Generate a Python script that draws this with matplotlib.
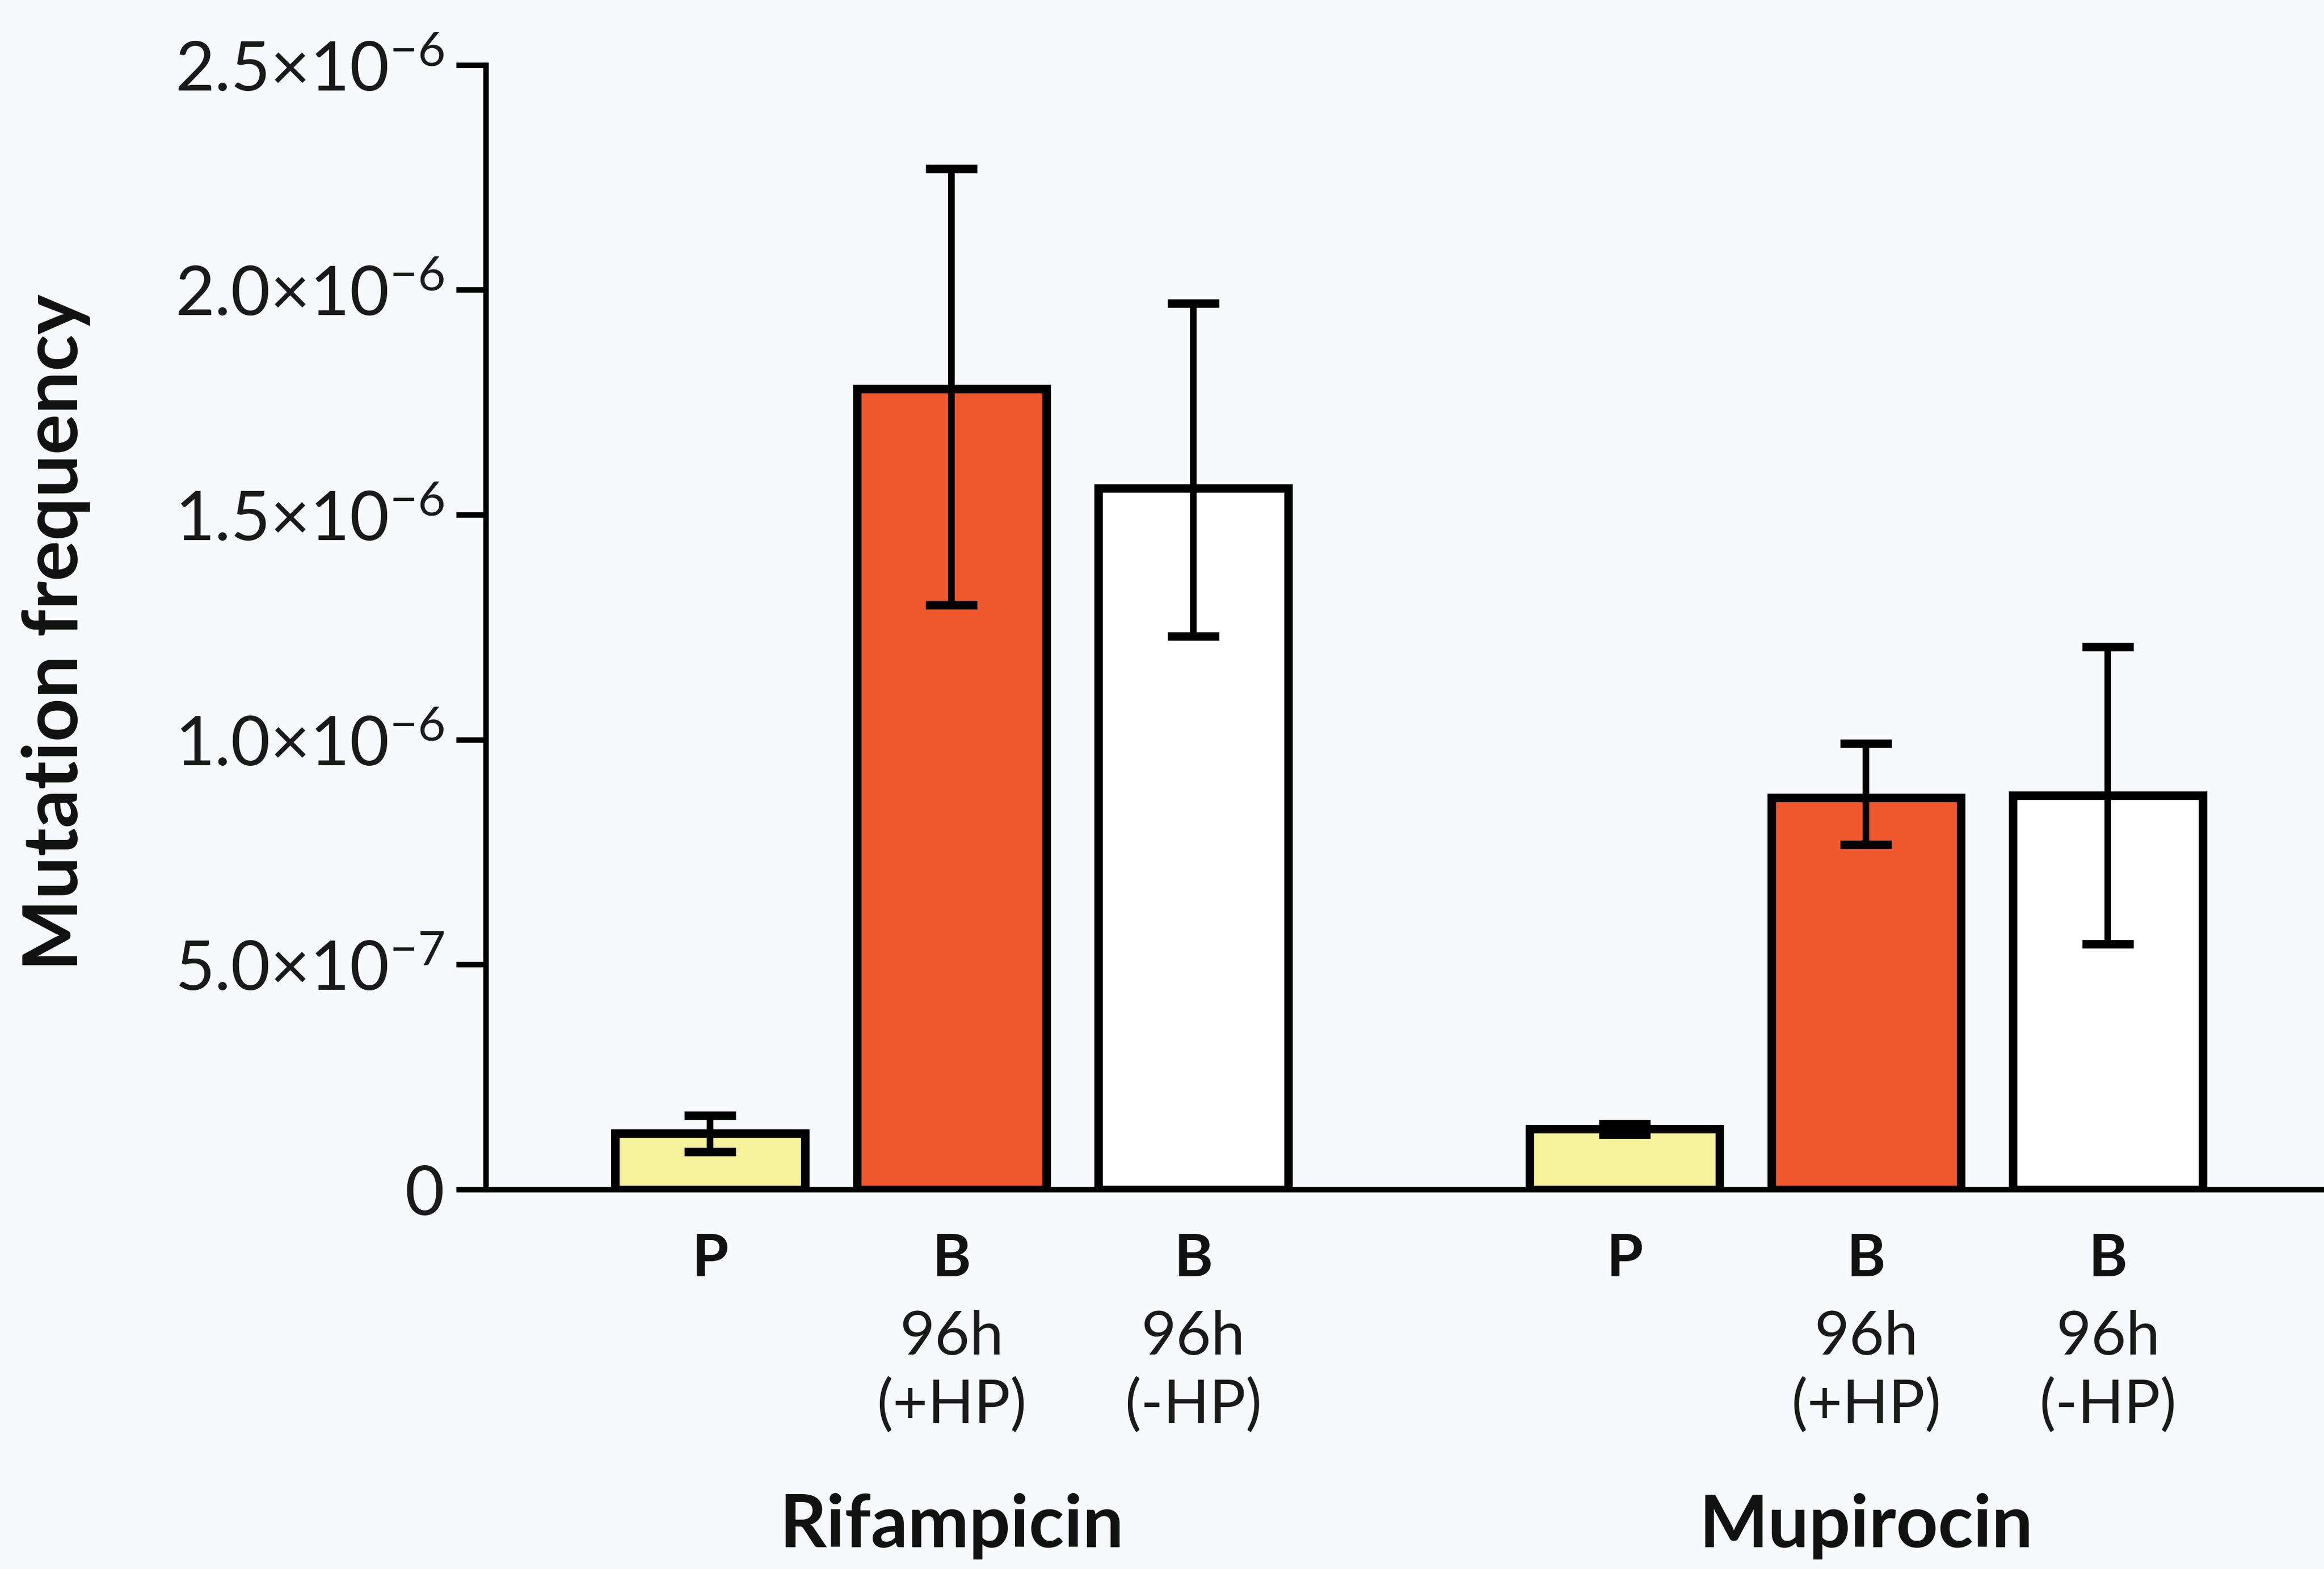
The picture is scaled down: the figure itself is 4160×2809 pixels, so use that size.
import matplotlib
matplotlib.use("Agg")
import matplotlib.pyplot as plt
import matplotlib.transforms as mtransforms
import numpy as np

plt.rcParams['font.family'] = ['Lato', 'DejaVu Sans']
plt.rcParams['mathtext.fontset'] = 'custom'
plt.rcParams['mathtext.rm'] = 'Lato'
plt.rcParams['mathtext.default'] = 'regular'

# ---- data ----
groups = ['Rifampicin', 'Mupirocin']
top_labels = ['P', 'B', 'B']
sub_labels = ['', '96h\n(+HP)', '96h\n(-HP)']
rif_means = [0.125e-6, 1.78e-6, 1.56e-6]
rif_err_low = [0.04e-6, 0.48e-6, 0.33e-6]
rif_err_high = [0.04e-6, 0.49e-6, 0.41e-6]
mup_means = [0.135e-6, 0.872e-6, 0.877e-6]
mup_err_low = [0.012e-6, 0.105e-6, 0.33e-6]
mup_err_high = [0.012e-6, 0.12e-6, 0.33e-6]
yticks = [0, 0.5e-6, 1.0e-6, 1.5e-6, 2.0e-6, 2.5e-6]
ytick_labels = ['0', '5.0×10$^{-7}$', '1.0×10$^{-6}$', '1.5×10$^{-6}$',
                '2.0×10$^{-6}$', '2.5×10$^{-6}$']

colors = ['#F6F29C', '#EE582C', '#FFFFFF']
bg = '#F7F9FC'

fig = plt.figure(figsize=(41.6, 28.09), dpi=100, facecolor=bg)
ax = fig.add_axes([0.2092, 0.2417, 0.7908, 0.7168], facecolor=bg)

group_gap = 1.785
width = 0.785
pos_rif = np.arange(3)
pos_mup = np.arange(3) + 2 + group_gap

for pos, means, lo, hi in [(pos_rif, rif_means, rif_err_low, rif_err_high),
                           (pos_mup, mup_means, mup_err_low, mup_err_high)]:
    ax.bar(pos, means, width=width, color=colors, edgecolor='black',
           linewidth=11, zorder=2)
    ax.errorbar(pos, means, yerr=[lo, hi], fmt='none', ecolor='black',
                elinewidth=8.5, capsize=33, capthick=11, zorder=3)

ax.set_xlim(-0.926, 6.68)
ax.set_ylim(0, 2.5e-6)
ax.set_yticks(yticks)
ax.set_yticklabels(ytick_labels, fontsize=88, color='#1a1a1a')
ax.tick_params(axis='y', length=38, width=7, pad=16)
ax.set_xticks([])
for s in ['top', 'right']:
    ax.spines[s].set_visible(False)
for s in ['left', 'bottom']:
    ax.spines[s].set_linewidth(7)
ax.spines['bottom'].set_zorder(4)

trans = mtransforms.blended_transform_factory(ax.transData, ax.transAxes)
all_pos = list(pos_rif) + list(pos_mup)
for i, x in enumerate(all_pos):
    k = i % 3
    ax.text(x, -0.062, top_labels[k], transform=trans, ha='center', va='center',
            fontsize=76, fontweight='bold', color='#111111')
    if sub_labels[k]:
        ax.text(x, -0.162, sub_labels[k], transform=trans, ha='center', va='center',
                fontsize=78, color='#1a1a1a', linespacing=1.28)

for g, x in zip(groups, [pos_rif[1], pos_mup[1]]):
    ax.text(x, -0.299, g, transform=trans, ha='center', va='center',
            fontsize=94, fontweight='bold', color='#111111')

fig.text(0.024, 0.597, 'Mutation frequency', rotation=90, ha='center', va='center',
         fontsize=98, fontweight='bold', color='#111111')

fig.savefig('out.png', dpi=100, facecolor=bg)
